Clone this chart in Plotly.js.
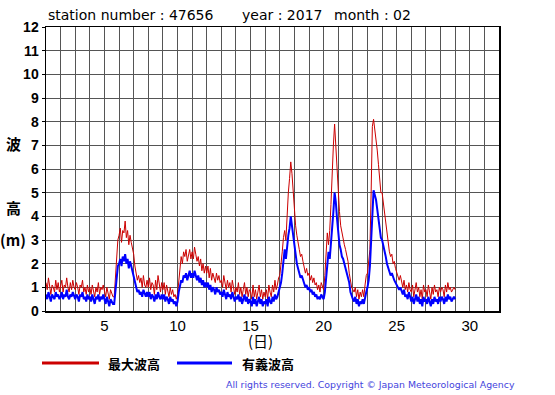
<!DOCTYPE html>
<html>
<head>
<meta charset="utf-8">
<script src="https://cdn.plot.ly/plotly-3.0.1.min.js"></script>
<style>html,body{margin:0;padding:0;background:#fff;}#chart{width:555px;height:395px;}</style>
</head>
<body>
<div id="chart"></div>
<script>
// Time axis: day of month, 2-hourly readings starting at day 1 00h
const startDay = 1;
const readingsPerDay = 12;

// 最大波高 (maximum wave height, m), one row per day
const maxWave = [
1.2,0.9,1.4,1.0,0.7,1.1,1.0,0.8,1.3,0.9,1.2,0.8,
1.0,1.3,0.8,1.1,1.0,1.4,1.0,0.8,1.2,0.9,1.3,1.0,
0.9,1.2,1.0,0.7,1.1,1.0,1.3,0.8,1.0,0.7,1.1,0.8,
1.0,0.7,1.1,0.8,0.6,1.0,0.8,1.2,0.7,1.0,0.9,1.1,
0.9,0.6,1.0,0.7,0.5,0.9,0.7,0.6,0.6,1.4,2.5,3.0,
3.2,3.5,2.9,3.4,3.3,3.8,3.1,3.4,2.8,3.2,2.9,2.6,
2.4,1.9,1.6,1.3,1.5,1.2,1.4,1.0,1.5,1.1,1.0,1.3,
1.0,1.4,0.9,1.2,1.1,0.7,1.3,0.9,1.5,1.0,0.8,1.2,
0.9,1.2,0.7,1.1,0.8,0.6,1.0,0.7,0.9,0.6,0.7,0.5,
0.7,1.3,1.8,2.3,2.0,2.5,2.3,2.6,2.1,2.4,2.6,2.2,
2.5,2.2,2.7,2.4,2.1,2.3,1.9,2.2,1.7,2.0,1.6,1.9,
1.6,1.9,1.4,1.8,1.3,1.6,1.4,1.2,1.6,1.3,1.5,1.2,
1.3,1.0,1.5,1.1,0.9,1.3,1.0,1.2,0.8,1.3,1.0,0.7,
1.0,0.8,1.2,0.7,1.0,0.6,0.9,1.2,0.7,1.0,0.6,0.9,
0.8,0.5,1.1,0.6,0.9,0.5,0.8,1.1,0.6,0.9,0.5,0.8,
0.6,0.9,0.5,1.1,0.8,0.6,1.1,0.8,1.3,0.9,1.1,1.4,
1.5,1.9,2.5,3.1,3.4,3.0,4.2,5.0,5.6,6.3,5.8,5.0,
4.0,3.6,3.2,2.8,2.6,2.3,2.4,2.1,1.9,1.6,1.8,1.5,
1.6,1.3,1.5,1.2,1.4,1.1,1.2,0.9,1.1,0.8,1.2,1.0,
0.9,1.5,2.6,3.3,2.8,3.4,4.5,6.0,7.0,7.9,6.9,6.1,
5.0,4.2,3.6,3.3,3.0,2.8,2.6,2.4,2.1,1.6,1.2,1.0,
0.9,0.8,1.0,0.6,0.9,0.5,0.8,0.6,0.9,0.6,1.1,1.5,
1.6,2.0,2.6,5.0,7.8,8.1,7.7,7.1,6.8,6.2,5.6,5.0,
5.0,4.6,4.1,3.6,3.3,3.0,2.5,2.3,2.4,2.0,2.1,1.8,
1.6,1.4,1.3,1.5,1.2,1.0,1.3,0.9,1.1,0.8,1.2,0.9,
0.8,1.1,0.6,0.9,1.2,0.8,1.0,0.6,0.9,0.5,1.1,0.8,
0.9,0.6,1.1,0.8,0.5,1.0,0.7,1.1,0.8,0.9,0.6,1.0,
0.8,1.0,0.9,0.6,1.1,0.8,1.2,0.9,1.0,0.8,0.9,1.0,
0.9
];

// 有義波高 (significant wave height, m), one row per day
const sigWave = [
0.7,0.5,0.8,0.6,0.4,0.7,0.6,0.5,0.8,0.6,0.7,0.5,
0.6,0.8,0.5,0.7,0.6,0.9,0.6,0.5,0.7,0.6,0.8,0.6,
0.5,0.7,0.6,0.4,0.7,0.6,0.8,0.5,0.6,0.4,0.7,0.5,
0.6,0.4,0.7,0.5,0.3,0.6,0.5,0.7,0.4,0.6,0.5,0.7,
0.5,0.3,0.6,0.4,0.2,0.5,0.4,0.3,0.3,0.9,1.5,1.9,
2.0,2.2,1.9,2.3,2.1,2.4,2.0,2.2,1.8,2.1,1.9,1.7,
1.5,1.2,1.0,0.8,0.9,0.7,0.8,0.6,0.9,0.7,0.6,0.8,
0.6,0.8,0.5,0.7,0.6,0.4,0.7,0.5,0.8,0.6,0.5,0.7,
0.5,0.7,0.4,0.6,0.5,0.3,0.6,0.4,0.5,0.3,0.4,0.2,
0.4,0.8,1.1,1.3,1.2,1.5,1.4,1.6,1.3,1.5,1.7,1.4,
1.6,1.4,1.7,1.5,1.3,1.5,1.2,1.4,1.1,1.3,1.0,1.2,
1.0,1.2,0.9,1.1,0.8,1.0,0.9,0.7,1.0,0.8,0.9,0.7,
0.8,0.6,0.9,0.7,0.5,0.8,0.6,0.7,0.5,0.8,0.6,0.4,
0.6,0.5,0.7,0.4,0.6,0.3,0.5,0.7,0.4,0.6,0.3,0.5,
0.4,0.2,0.6,0.3,0.5,0.2,0.4,0.6,0.3,0.5,0.2,0.4,
0.3,0.5,0.2,0.6,0.4,0.3,0.6,0.4,0.7,0.5,0.6,0.8,
0.9,1.2,1.6,2.0,2.6,2.2,2.8,3.2,3.5,4.0,3.6,3.2,
2.6,2.3,2.0,1.8,1.6,1.4,1.5,1.3,1.2,1.0,1.1,0.9,
1.0,0.8,0.9,0.7,0.8,0.6,0.7,0.5,0.6,0.5,0.7,0.6,
0.5,0.8,1.5,2.1,2.5,2.2,2.8,3.4,4.2,5.0,4.6,3.9,
3.2,2.8,2.6,2.3,2.2,2.0,1.8,1.7,1.5,1.2,0.8,0.6,
0.5,0.4,0.6,0.3,0.5,0.2,0.4,0.3,0.5,0.3,0.6,0.8,
1.0,1.3,1.9,2.8,4.2,5.1,4.9,4.7,4.3,3.8,3.4,3.1,
3.0,2.8,2.6,2.3,2.0,1.8,1.7,1.5,1.6,1.4,1.3,1.2,
1.1,1.0,0.9,1.0,0.8,0.7,0.9,0.6,0.7,0.5,0.8,0.6,
0.4,0.6,0.3,0.5,0.7,0.4,0.6,0.3,0.5,0.2,0.6,0.4,
0.5,0.3,0.6,0.4,0.2,0.5,0.3,0.6,0.4,0.5,0.3,0.6,
0.4,0.6,0.5,0.3,0.6,0.4,0.7,0.5,0.6,0.4,0.5,0.6,
0.5
];

const yTicks = [0,1,2,3,4,5,6,7,8,9,10,11,12];
const seriesNames = ['最大波高', '有義波高'];

const times = maxWave.map((_, i) => startDay + i / readingsPerDay);

const traces = [
  {x: times, y: maxWave, type: 'scatter', mode: 'lines', name: seriesNames[0],
   line: {color: '#cc0000', width: 1}, hoverinfo: 'skip'},
  {x: times, y: sigWave, type: 'scatter', mode: 'lines', name: seriesNames[1],
   line: {color: '#0000ff', width: 2}, hoverinfo: 'skip'}
];

const L = 46, R = 499, T = 27, B = 311;
const px = v => (v - L) / (R - L);
const py = v => (B - v) / (B - T);
const cjk = '"Noto Sans CJK JP", sans-serif';
const lat = '"Liberation Sans", Arial, sans-serif';
const dv = '"DejaVu Sans", sans-serif';

function note(text, x, y, font, xanchor) {
  return {text: text, xref: 'paper', yref: 'paper', x: px(x), y: py(y),
          xanchor: xanchor || 'center', yanchor: 'middle', showarrow: false, font: font};
}

const layout = {
  width: 555, height: 395,
  margin: {l: L, r: 555 - R, t: T, b: 395 - B, pad: 0},
  paper_bgcolor: '#fff', plot_bgcolor: '#fff',
  showlegend: false,
  xaxis: {
    range: [1, 32], tick0: 0, dtick: 5, showgrid: true, gridcolor: '#555', gridwidth: 1,
    minor: {tick0: 0, dtick: 1, showgrid: true, gridcolor: '#555', gridwidth: 1, ticks: ''},
    ticks: '', zeroline: false, showline: true, mirror: true, linecolor: '#000', linewidth: 1.5,
    tickfont: {family: lat, size: 15, color: '#000'}, fixedrange: true
  },
  yaxis: {
    range: [0, 12], tickvals: yTicks, ticktext: yTicks.map(String), showgrid: true, gridcolor: '#555', gridwidth: 1,
    ticks: 'outside', ticklen: 3, tickcolor: '#000', zeroline: false, showline: true, mirror: true,
    linecolor: '#000', linewidth: 1.5,
    tickfont: {family: lat, size: 14, color: '#000', weight: 'bold'}, fixedrange: true
  },
  shapes: [
    {type: 'line', xref: 'paper', yref: 'paper', x0: px(42), x1: px(99), y0: py(363), y1: py(363),
     line: {color: '#cc0000', width: 3}},
    {type: 'line', xref: 'paper', yref: 'paper', x0: px(177), x1: px(232), y0: py(363), y1: py(363),
     line: {color: '#0000ff', width: 3}}
  ],
  annotations: [
    note('station number : 47656', 46, 15, {family: dv, size: 14, color: '#000'}, 'left'),
    note('year : 2017', 240, 15, {family: dv, size: 14, color: '#000'}, 'left'),
    note('month : 02', 332, 15, {family: dv, size: 14, color: '#000'}, 'left'),
    note('波', 13, 143, {family: cjk, size: 15, color: '#000', weight: 'bold'}),
    note('高', 13, 207, {family: cjk, size: 15, color: '#000', weight: 'bold'}),
    note('(m)', 13, 239, {family: cjk, size: 15, color: '#000', weight: 'bold'}),
    note('(日)', 260, 340, {family: cjk, size: 15, color: '#000'}),
    note(seriesNames[0], 134, 363, {family: cjk, size: 13, color: '#000', weight: 'bold'}),
    note(seriesNames[1], 268, 363, {family: cjk, size: 13, color: '#000', weight: 'bold'}),
    note('All rights reserved. Copyright © Japan Meteorological Agency', 517, 384,
         {family: dv, size: 9.4, color: '#4444dd'}, 'right')
  ]
};

Plotly.newPlot('chart', traces, layout, {staticPlot: true, displayModeBar: false});
</script>
</body>
</html>
